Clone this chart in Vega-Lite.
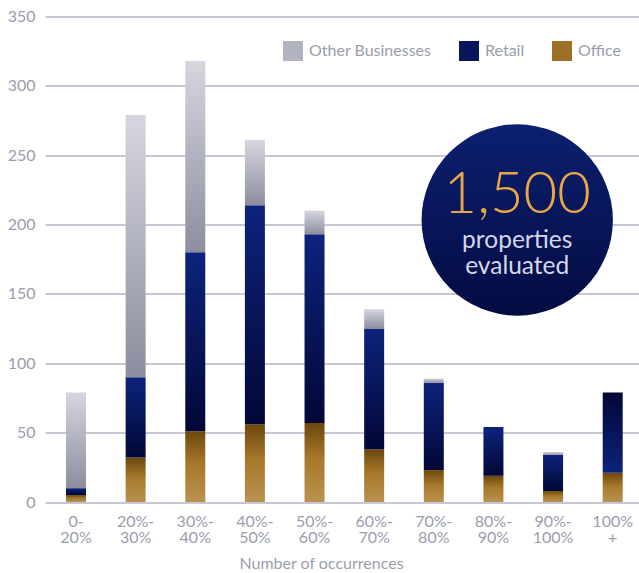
{
  "$schema": "https://vega.github.io/schema/vega-lite/v6.json",
  "width": 594,
  "height": 485.5,
  "autosize": {"type": "none"},
  "padding": {"left": 45, "top": 16.5, "right": 0, "bottom": 71},
  "background": "white",
  "config": {
    "view": {"stroke": null},
    "font": "Lato",
    "axis": {"labelFont": "Lato", "titleFont": "Lato"},
    "legend": {"labelFont": "Lato"}
  },
  "layer": [
    {
      "data": {
        "values": [
          {"range": "0-20%", "type": "Office", "count": 5},
          {"range": "0-20%", "type": "Retail", "count": 5},
          {"range": "0-20%", "type": "Other Businesses", "count": 69},
          {"range": "20%-30%", "type": "Office", "count": 32},
          {"range": "20%-30%", "type": "Retail", "count": 58},
          {"range": "20%-30%", "type": "Other Businesses", "count": 189},
          {"range": "30%-40%", "type": "Office", "count": 51},
          {"range": "30%-40%", "type": "Retail", "count": 129},
          {"range": "30%-40%", "type": "Other Businesses", "count": 138},
          {"range": "40%-50%", "type": "Office", "count": 56},
          {"range": "40%-50%", "type": "Retail", "count": 158},
          {"range": "40%-50%", "type": "Other Businesses", "count": 47},
          {"range": "50%-60%", "type": "Office", "count": 57},
          {"range": "50%-60%", "type": "Retail", "count": 136},
          {"range": "50%-60%", "type": "Other Businesses", "count": 17},
          {"range": "60%-70%", "type": "Office", "count": 38},
          {"range": "60%-70%", "type": "Retail", "count": 87},
          {"range": "60%-70%", "type": "Other Businesses", "count": 14},
          {"range": "70%-80%", "type": "Office", "count": 23},
          {"range": "70%-80%", "type": "Retail", "count": 63},
          {"range": "70%-80%", "type": "Other Businesses", "count": 3},
          {"range": "80%-90%", "type": "Office", "count": 19},
          {"range": "80%-90%", "type": "Retail", "count": 35},
          {"range": "80%-90%", "type": "Other Businesses", "count": 0},
          {"range": "90%-100%", "type": "Office", "count": 8},
          {"range": "90%-100%", "type": "Retail", "count": 26},
          {"range": "90%-100%", "type": "Other Businesses", "count": 2},
          {"range": "100%+", "type": "Office", "count": 21},
          {"range": "100%+", "type": "Retail", "count": 58},
          {"range": "100%+", "type": "Other Businesses", "count": 0}
        ]
      },
      "transform": [
        {
          "lookup": "type",
          "from": {
            "data": {"values": [
              {"type": "Office", "stackRank": 0},
              {"type": "Retail", "stackRank": 1},
              {"type": "Other Businesses", "stackRank": 2}
            ]},
            "key": "type",
            "fields": ["stackRank"]
          }
        }
      ],
      "mark": {"type": "bar", "strokeWidth": 0},
      "encoding": {
        "x": {
          "field": "range",
          "type": "nominal",
          "sort": null,
          "scale": {"paddingInner": 0.6646, "paddingOuter": 0.3128, "align": 0.563},
          "axis": {
            "domain": false,
            "ticks": false,
            "grid": false,
            "labelAngle": 0,
            "labelFontSize": 16,
            "labelColor": "#9b9dad",
            "labelPadding": 11,
            "labelLineHeight": 16,
            "labelExpr": "split(replace(replace(datum.label, '-', '-~'), '%+', '%~+'), '~')",
            "title": "Number of occurrences",
            "titleFontSize": 16,
            "titleFontWeight": "normal",
            "titleColor": "#9b9dad",
            "titleX": 276,
            "titleY": 66,
            "titleAlign": "center",
            "titleBaseline": "alphabetic"
          }
        },
        "y": {
          "field": "count",
          "type": "quantitative",
          "stack": "zero",
          "scale": {"domain": [0, 350], "nice": false},
          "axis": {
            "values": [0, 50, 100, 150, 200, 250, 300, 350],
            "domain": false,
            "ticks": false,
            "grid": true,
            "gridColor": "#b3b5c3",
            "gridWidth": 1.5,
            "labelFontSize": 16,
            "labelColor": "#9b9dad",
            "labelPadding": 10,
            "title": null
          }
        },
        "order": {"field": "stackRank", "type": "quantitative"},
        "fill": {
          "condition": [
            {"test": "datum.type === 'Other Businesses'", "value": {"gradient": "linear", "x1": 0, "y1": 0, "x2": 0, "y2": 1, "stops": [{"offset": 0, "color": "#d6d6df"}, {"offset": 1, "color": "#8c8e9f"}]}},
            {"test": "datum.range === '100%+' && datum.type === 'Retail'", "value": {"gradient": "linear", "x1": 0, "y1": 0, "x2": 0, "y2": 1, "stops": [{"offset": 0, "color": "#020736"}, {"offset": 1, "color": "#0d237c"}]}},
            {"test": "datum.type === 'Retail'", "value": {"gradient": "linear", "x1": 0, "y1": 0, "x2": 0, "y2": 1, "stops": [{"offset": 0, "color": "#0d237c"}, {"offset": 1, "color": "#020736"}]}},
            {"test": "datum.type === 'Office'", "value": {"gradient": "linear", "x1": 0, "y1": 0, "x2": 0, "y2": 1, "stops": [{"offset": 0, "color": "#6c470c"}, {"offset": 0.45, "color": "#a6782a"}, {"offset": 1, "color": "#ba924f"}]}}
          ],
          "field": "type",
          "type": "nominal",
          "scale": {
            "domain": ["Other Businesses", "Retail", "Office"],
            "range": ["#b2b3c0", "#07165a", "#9c7028"]
          },
          "legend": {
            "title": null,
            "orient": "none",
            "legendX": 238,
            "legendY": 24.5,
            "direction": "horizontal",
            "symbolType": "square",
            "symbolSize": 400,
            "symbolStrokeWidth": 0,
            "labelFontSize": 16,
            "labelColor": "#9b9dad",
            "labelOffset": 6,
            "columnPadding": 27
          }
        }
      }
    },
    {
      "data": {"values": [{"label": "1,500 properties evaluated"}]},
      "mark": {
        "type": "point",
        "shape": "circle",
        "filled": true,
        "size": 36600,
        "opacity": 1,
        "strokeWidth": 0,
        "fill": {"gradient": "linear", "x1": 0, "y1": 0, "x2": 0, "y2": 1, "stops": [{"offset": 0, "color": "#0c2070"}, {"offset": 1, "color": "#030b42"}]}
      },
      "encoding": {
        "x": {"datum": 7.95, "type": "quantitative", "scale": {"domain": [0, 10]}, "axis": null},
        "y": {"datum": 203.3, "type": "quantitative"}
      }
    },
    {
      "data": {"values": [{"label": "1,500"}]},
      "mark": {"type": "text", "font": "Lato", "fontSize": 58, "fontWeight": 300, "color": "#e8a944", "align": "center", "baseline": "alphabetic"},
      "encoding": {
        "x": {"datum": 7.95, "type": "quantitative", "scale": {"domain": [0, 10]}, "axis": null},
        "y": {"datum": 208.6, "type": "quantitative"},
        "text": {"field": "label"}
      }
    },
    {
      "data": {"values": [{"label": "properties"}]},
      "mark": {"type": "text", "font": "Lato", "fontSize": 24.5, "color": "#d5d8e8", "align": "center", "baseline": "alphabetic"},
      "encoding": {
        "x": {"datum": 7.95, "type": "quantitative", "scale": {"domain": [0, 10]}, "axis": null},
        "y": {"datum": 182.8, "type": "quantitative"},
        "text": {"field": "label"}
      }
    },
    {
      "data": {"values": [{"label": "evaluated"}]},
      "mark": {"type": "text", "font": "Lato", "fontSize": 24.5, "color": "#d5d8e8", "align": "center", "baseline": "alphabetic"},
      "encoding": {
        "x": {"datum": 7.95, "type": "quantitative", "scale": {"domain": [0, 10]}, "axis": null},
        "y": {"datum": 164.4, "type": "quantitative"},
        "text": {"field": "label"}
      }
    }
  ],
  "resolve": {"scale": {"x": "independent"}}
}
